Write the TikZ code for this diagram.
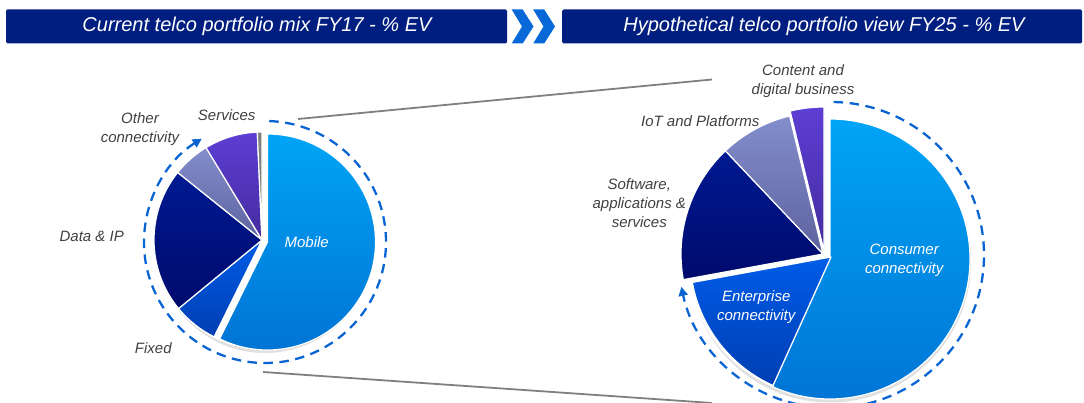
\documentclass[tikz,border=0pt]{standalone}
\usepackage{fontspec}
\setmainfont{Liberation Sans}
\usetikzlibrary{arrows.meta}
\definecolor{navy}{RGB}{0,30,128}
\definecolor{chev}{RGB}{8,104,216}
\definecolor{ringblue}{RGB}{10,100,210}
\definecolor{labelgray}{RGB}{64,64,64}
\definecolor{linegray}{RGB}{128,128,128}
\definecolor{mobT}{RGB}{0,164,246}
\definecolor{mobB}{RGB}{0,116,212}
\definecolor{fixT}{RGB}{0,92,232}
\definecolor{fixB}{RGB}{0,62,178}
\definecolor{datT}{RGB}{0,26,146}
\definecolor{datB}{RGB}{0,10,108}
\definecolor{othT}{RGB}{132,142,204}
\definecolor{othB}{RGB}{92,98,158}
\definecolor{serT}{RGB}{92,62,212}
\definecolor{serB}{RGB}{68,44,158}
\definecolor{gryS}{RGB}{128,128,128}
\newcommand\pieslice[6]{%
  \path[slice,#6] (#1,#2) -- ++(#4:#3) arc[start angle=#4,end angle=#5,radius=#3] -- cycle;}
\begin{document}
\begin{tikzpicture}[x=1pt,y=-1pt,
  hdr/.style={fill=navy, rounded corners=1.5pt},
  chevron/.style={fill=chev},
  hdrtext/.style={text=white, font=\fontsize{20}{24}\selectfont\itshape, inner sep=0pt},
  lbl/.style={text=labelgray, font=\fontsize{15}{19}\selectfont\itshape, align=center, inner sep=0pt},
  wlbl/.style={lbl, text=white},
  ring/.style={draw=ringblue, line width=2.3pt, dash pattern=on 9.5pt off 6.5pt, -{Triangle[length=9pt,width=9pt]}},
  conn/.style={draw=linegray, line width=1.8pt},
  slice/.style={draw=white, line width=1.2pt, line join=round},
  shadowc/.style={fill=black, opacity=0.12}
]
\useasboundingbox (0,0) rectangle (1084,403);

% header bars
\path[hdr] (6,9.5) rectangle (507,43.5);
\path[hdr] (562,9.5) rectangle (1082,43.5);
\node[hdrtext] (h1) at (257,26.5) {Current telco portfolio mix FY17 - \% EV};
\node[hdrtext] (h2) at (824,26.5) {Hypothetical telco portfolio view FY25 - \% EV};
\path[chevron] (511.7,9.5) -- (522.7,9.5) -- (533.5,26.5) -- (522.7,43.5) -- (511.7,43.5) -- (522,26.5) -- cycle;
\path[chevron] (533.2,9.5) -- (544.2,9.5) -- (555,26.5) -- (544.2,43.5) -- (533.2,43.5) -- (543.5,26.5) -- cycle;

% connecting lines
\coordinate (lt1) at (298,119);
\coordinate (lt2) at (712,79.5);
\coordinate (lb1) at (263,372);
\coordinate (lb2) at (712,403);
\draw[conn] (lt1) -- (lt2);
\draw[conn] (lb1) -- (lb2);

% left pie
\fill[shadowc] (265,244.5) circle[radius=108.5];
\fill[white] (263,241) circle[radius=108.5];
\pieslice{267.5}{242}{108}{-90}{116.3}{top color=mobT,bottom color=mobB}
\pieslice{262}{240}{108}{116.3}{140.6}{top color=fixT,bottom color=fixB}
\pieslice{262}{240}{108}{140.6}{218.7}{top color=datT,bottom color=datB}
\pieslice{262}{240}{108}{218.7}{238.8}{top color=othT,bottom color=othB}
\pieslice{262}{240}{108}{238.8}{267.5}{top color=serT,bottom color=serB}
\pieslice{262}{240}{108}{267.5}{270}{fill=gryS}

% left ring
\draw[ring] (265,242) ++(-88:121) arc[start angle=-88,end angle=238.5,radius=121];

% right pie
\fill[shadowc] (830,261.5) circle[radius=141];
\fill[white] (828,257) circle[radius=141];
\pieslice{830}{259}{140}{-90}{114.3}{top color=mobT,bottom color=mobB}
\pieslice{831}{257}{141}{114.3}{169.6}{top color=fixT,bottom color=fixB}
\pieslice{823}{254}{142}{169.6}{226.6}{top color=datT,bottom color=datB}
\pieslice{823}{254}{142}{226.6}{256.4}{top color=othT,bottom color=othB}
\pieslice{824}{251}{144}{256.4}{270}{top color=serT,bottom color=serB}

% right ring
\draw[ring] (831,255) ++(-89:153) arc[start angle=-89,end angle=168,radius=153];

% left labels
\node[lbl] (oc) at (140,129.5) {Other\\connectivity};
\node[lbl] (sv) at (226.7,115) {Services};
\node[lbl] (dip) at (91.7,236) {Data \& IP};
\node[lbl] (fx) at (153.3,348.5) {Fixed};
\node[wlbl] (mb) at (306.7,242) {Mobile};

% right labels
\node[lbl] (cd) at (803,81.5) {Content and\\digital business};
\node[lbl] (iot) at (700.3,121.5) {IoT and Platforms};
\node[lbl] (sw) at (639.3,203) {Software,\\applications \&\\services};
\node[wlbl] (cc) at (904.2,260.5) {Consumer\\connectivity};
\node[wlbl] (ec) at (756.2,307.5) {Enterprise\\connectivity};
\end{tikzpicture}
\end{document}
